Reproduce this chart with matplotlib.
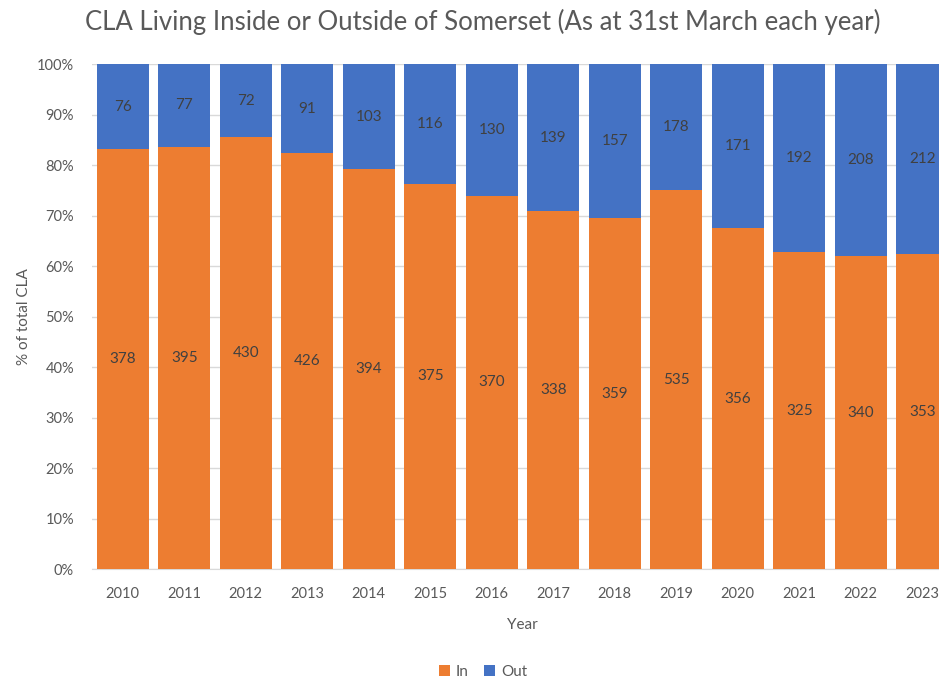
import matplotlib.pyplot as plt
import numpy as np

# Data
years = ['2010', '2011', '2012', '2013', '2014', '2015', '2016',
         '2017', '2018', '2019', '2020', '2021', '2022', '2023']
inside = [378, 395, 430, 426, 394, 375, 370, 338, 359, 535, 356, 325, 340, 353]
outside = [76, 77, 72, 91, 103, 116, 130, 139, 157, 178, 171, 192, 208, 212]

plt.rcParams['font.family'] = ['Lato', 'DejaVu Sans']

inside_a = np.array(inside, dtype=float)
outside_a = np.array(outside, dtype=float)
total = inside_a + outside_a
in_pct = inside_a / total * 100
out_pct = outside_a / total * 100

W, H = 939, 679
fig = plt.figure(figsize=(W / 100, H / 100), dpi=100)
# the plot area runs a little past the right edge, as in the original
ax = fig.add_axes([92 / W, (H - 569.3) / H, 861 / W, 505 / H])

x = np.arange(len(years))
orange = '#ED7D31'
blue = '#4472C4'
b1 = ax.bar(x, in_pct, width=0.845, color=orange, label='In', zorder=3)
b2 = ax.bar(x, out_pct, width=0.845, bottom=in_pct, color=blue, label='Out', zorder=3)

for i in range(len(years)):
    ax.text(x[i], in_pct[i] / 2, str(inside[i]), ha='center', va='center',
            fontsize=11, color='#404040', zorder=4)
    ax.text(x[i], in_pct[i] + out_pct[i] / 2, str(outside[i]), ha='center',
            va='center', fontsize=11, color='#404040', zorder=4)

ax.set_xlim(-0.5, len(years) - 0.5)
ax.set_ylim(0, 100)
ax.set_yticks(np.arange(0, 101, 10))
ax.set_yticklabels([f'{v}%' for v in range(0, 101, 10)])
ax.set_xticks(x)
ax.set_xticklabels(years)
ax.yaxis.grid(True, color='#D9D9D9', linewidth=1, zorder=0)
ax.tick_params(axis='both', length=0, labelsize=10.5, labelcolor='#595959')
ax.tick_params(axis='x', pad=13)
ax.tick_params(axis='y', pad=13)
for s in ['top', 'right', 'left']:
    ax.spines[s].set_visible(False)
ax.spines['bottom'].set_color('#D9D9D9')

ax.set_xlabel('Year', fontsize=11, color='#595959', labelpad=12)
ax.set_ylabel('% of total CLA', fontsize=11, color='#595959', labelpad=4)

fig.text(483 / W, 1 - 22 / H, 'CLA Living Inside or Outside of Somerset (As at 31st March each year)',
         ha='center', va='center', fontsize=18.5, color='#595959')

fig.legend(handles=[b1, b2], loc='center', bbox_to_anchor=(483 / W, 1 - 672 / H),
           ncol=2, frameon=False, fontsize=11, labelcolor='#595959',
           handlelength=0.7, handleheight=0.7, handletextpad=0.4, columnspacing=1.0)

fig.savefig('out.png', dpi=100)
